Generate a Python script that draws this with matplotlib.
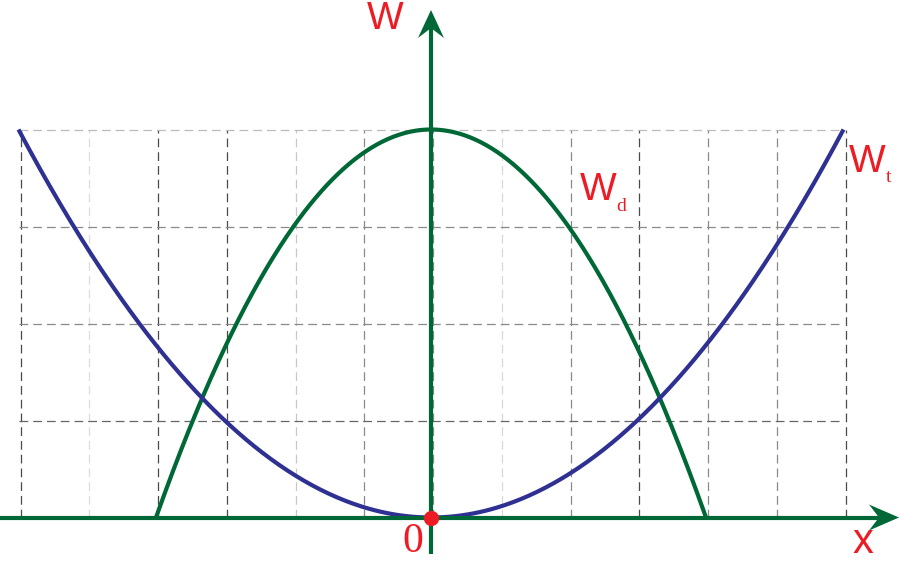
import numpy as np
import matplotlib.pyplot as plt

# ------------------------------------------------------------
# data (grid units: x step = 1, W step = 1)
# ------------------------------------------------------------
grid_x = [-6, -5, -4, -3, -2, -1, 0, 1, 2, 3, 4, 5, 6]
grid_x_colors = ["#4a4a4a", "#dddddd", "#4a4a4a", "#4a4a4a", "#c8c8c8", "#8a8a8a", "#8a8a8a",
                 "#d8d8d8", "#8a8a8a", "#4a4a4a", "#8a8a8a", "#8a8a8a", "#4a4a4a"]
grid_y = [1, 2, 3, 4]
grid_y_colors = ["#666666", "#8a8a8a", "#8a8a8a", "#bbbbbb"]

wd_peak = 4.0     # W_d at x = 0
wd_zero = 4.0     # W_d = 0 at x = +-4
wt_edge_x = 6.0   # W_t reaches wt_edge_w at x = +-6
wt_edge_w = 4.0

GREEN = "#006837"
BLUE = "#2e3192"
RED = "#ed1c24"

# ------------------------------------------------------------
# figure
# ------------------------------------------------------------
fig = plt.figure(figsize=(9, 5.7), dpi=100)
ax = fig.add_axes([0, 0, 1, 1])
ax.set_xlim(-431 / 68.75, (900 - 431) / 68.75)
ax.set_ylim(-(570 - 517.5) / 97, 517.5 / 97)
ax.axis("off")

# dashed grid
for gx, c in zip(grid_x, grid_x_colors):
    ax.plot([gx + 0.03, gx + 0.03], [0, grid_y[-1]], color=c, lw=0.9,
            dashes=(7, 4), zorder=1)
for gy, c in zip(grid_y, grid_y_colors):
    ax.plot([grid_x[0], grid_x[-1]], [gy, gy], color=c, lw=0.9,
            dashes=(7, 4), zorder=1)

# curves
x_d = np.linspace(-wd_zero, wd_zero, 400)
w_d = wd_peak * (1 - (x_d / wd_zero) ** 2)
ax.plot(x_d, w_d, color=GREEN, lw=3, zorder=3, solid_capstyle="butt")

x_t = np.linspace(-wt_edge_x, wt_edge_x, 400)
w_t = wt_edge_w * (x_t / wt_edge_x) ** 2
ax.plot(x_t, w_t, color=BLUE, lw=3, zorder=3, solid_capstyle="butt")

# axes with barbed arrow heads
xmin, xmax = ax.get_xlim()
ymin, ymax = ax.get_ylim()
sx = 1 / 68.75   # data per pixel, horizontal
sy = 1 / 97      # data per pixel, vertical

ax.plot([xmin, xmax - 20 * sx], [0, 0], color=GREEN, lw=3, zorder=4,
        solid_capstyle="butt")
ax.plot([0, 0], [-36 * sy, ymax - 20 * sy], color=GREEN, lw=3, zorder=4,
        solid_capstyle="butt")

tip = xmax - 1 * sx
ax.fill([tip, tip - 30 * sx, tip - 20 * sx, tip - 30 * sx],
        [0, 13 * sy, 0, -13 * sy], color=GREEN, lw=0, zorder=4)
tip = ymax - 10 * sy
ax.fill([0, 13 * sx, 0, -13 * sx],
        [tip, tip - 28 * sy, tip - 18 * sy, tip - 28 * sy], color=GREEN, lw=0, zorder=4)

# origin
ax.plot([0], [0], "o", color=RED, ms=11, mec="none", zorder=5)

# labels
sans = ["Liberation Sans", "DejaVu Sans"]
serif = ["Liberation Serif", "DejaVu Serif"]
ax.text(-0.66, 5.14, "W", color=RED, fontsize=28, family=sans, ha="center", va="center",
        fontweight="medium")
ax.text(-0.27, -0.25, "0", color=RED, fontsize=30, family=serif, ha="center", va="center")
ax.text(6.28, -0.25, "x", color=RED, fontsize=30, family=sans, ha="center", va="center")

ax.text(2.43, 3.38, "W", color=RED, fontsize=28, family=sans, ha="center", va="center")
ax.text(2.70, 3.12, "d", color=RED, fontsize=14, family=serif, ha="left", va="bottom")
ax.text(6.35, 3.665, "W", color=RED, fontsize=28, family=sans, ha="center", va="center")
ax.text(6.62, 3.42, "t", color=RED, fontsize=14, family=serif, ha="left", va="bottom")

fig.savefig("out.png", dpi=100)
